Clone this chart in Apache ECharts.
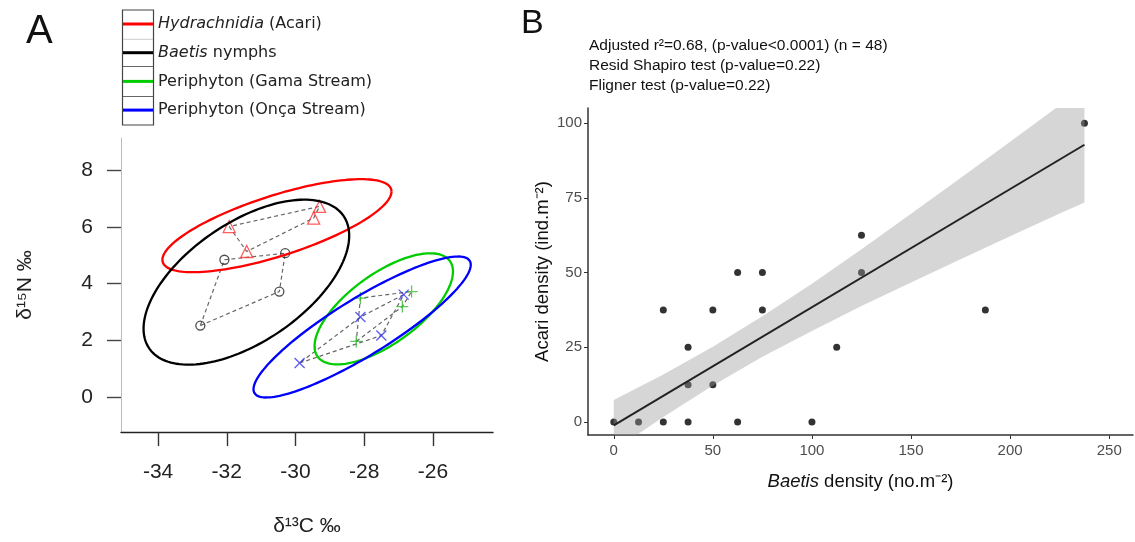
<!DOCTYPE html>
<html><head><meta charset="utf-8">
<script src="https://cdn.jsdelivr.net/npm/echarts@6/dist/echarts.min.js"></script>
<style>html,body{margin:0;padding:0;background:#fff}#c{width:1135px;height:542px}</style>
</head><body><div id="c"></div>
<script>
// ---------- Panel A : stable isotopes ----------
const groupNames = ['Hydrachnidia (Acari)', 'Baetis nymphs', 'Periphyton (Gama Stream)', 'Periphyton (Onça Stream)'];
const groupColors = ['#ff0000', '#000000', '#00cd00', '#0000ff'];
const markerColors = ['#ff3333', '#222222', '#33bb33', '#3333ee'];
// d13C and d15N of each sample
const acariC  = [-31.93, -31.42, -29.30, -29.47];
const acariN  = [6.01, 5.13, 6.72, 6.31];
const baetisC = [-32.07, -30.30, -30.47, -32.77];
const baetisN = [4.84, 5.07, 3.72, 2.52];
const gamaC   = [-28.11, -26.62, -26.89, -28.23];
const gamaN   = [3.49, 3.72, 3.19, 1.96];
const oncaC   = [-29.88, -28.11, -27.50, -26.85];
const oncaN   = [1.20, 2.82, 2.17, 3.61];
// standard ellipses: [centre C, centre N, var C, var N, cov C-N]
const ellipseAcari  = [-30.54, 6.04, 11.12, 2.686, 4.007];
const ellipseBaetis = [-31.43, 4.05, 8.96, 8.45, 4.905];
const ellipseGama   = [-27.43, 3.11, 4.06, 3.83, 2.649];
const ellipseOnca   = [-28.06, 2.47, 10.0, 6.17, 6.933];
const xTicksA = [-34, -32, -30, -28, -26];
const yTicksA = [0, 2, 4, 6, 8];

// ---------- Panel B : densities ----------
const baetisDensity = [0, 12.5, 25, 37.5, 62.5, 100, 25, 37.5, 37.5, 50, 50, 62.5, 75, 75, 112.5, 125, 125, 187.5, 237.5];
const acariDensity  = [0, 0, 0, 0, 0, 0, 37.5, 25, 12.5, 37.5, 12.5, 50, 50, 37.5, 25, 62.5, 50, 37.5, 100];
const fitX = [0, 237.5];
const fitY = [-1.1, 92.8];
const bandX     = [0, 25, 50, 75, 100, 125, 150, 175, 200, 225, 237.5];
const bandLower = [-9.6, 1.7, 12.2, 21.8, 30.5, 38.8, 46.7, 54.5, 62.2, 69.8, 73.5];
const bandUpper = [7.4, 15.9, 25.2, 35.4, 46.3, 57.8, 69.7, 81.7, 93.8, 106.0, 112.1];
const xTicksB = [0, 50, 100, 150, 200, 250];
const yTicksB = [0, 25, 50, 75, 100];

const groupsC = [acariC, baetisC, gamaC, oncaC];
const groupsN = [acariN, baetisN, gamaN, oncaN];
const ellipses = [ellipseAcari, ellipseBaetis, ellipseGama, ellipseOnca];
const symbols = ['triangle', 'circle', 'path://M0,5L10,5M5,0L5,10', 'path://M0,0L10,10M10,0L0,10'];
const symbolSizes = [12, 9, 12, 10];

function convexHull(xs, ys) {
  const p = xs.map((x, i) => [x, ys[i]]).sort((a, b) => a[0] - b[0] || a[1] - b[1]);
  const cr = (o, a, b) => (a[0] - o[0]) * (b[1] - o[1]) - (a[1] - o[1]) * (b[0] - o[0]);
  const lo = [], up = [];
  for (const q of p) { while (lo.length >= 2 && cr(lo[lo.length - 2], lo[lo.length - 1], q) <= 0) lo.pop(); lo.push(q); }
  for (let i = p.length - 1; i >= 0; i--) { const q = p[i]; while (up.length >= 2 && cr(up[up.length - 2], up[up.length - 1], q) <= 0) up.pop(); up.push(q); }
  up.pop(); lo.pop();
  const h = lo.concat(up); h.push(h[0]); return h;
}

const FONT = 'Liberation Sans, Arial, sans-serif';
const series = [];
groupNames.forEach((name, g) => {
  series.push({
    name, type: 'custom', xAxisIndex: 0, yAxisIndex: 0, z: 5,
    itemStyle: { color: groupColors[g] },
    dimensions: ['cx', 'cy', 'sxx', 'syy', 'sxy'], encode: { x: 0, y: 1 },
    data: [ellipses[g]],
    renderItem: function (params, api) {
      const cx = api.value(0), cy = api.value(1), sxx = api.value(2), syy = api.value(3), sxy = api.value(4);
      const a = Math.sqrt(sxx), b = sxy / a, c = Math.sqrt(syy - b * b);
      const pts = [];
      for (let i = 0; i <= 160; i++) {
        const t = i / 160 * 2 * Math.PI;
        pts.push(api.coord([cx + a * Math.cos(t), cy + b * Math.cos(t) + c * Math.sin(t)]));
      }
      return { type: 'polyline', shape: { points: pts }, style: { fill: 'none', stroke: groupColors[g], lineWidth: 2.3 } };
    }
  });
});
groupNames.forEach((name, g) => {
  series.push({
    name, type: 'line', xAxisIndex: 0, yAxisIndex: 0, z: 3, symbol: 'none', silent: true,
    data: convexHull(groupsC[g], groupsN[g]),
    lineStyle: { color: '#666', width: 1.2, type: [4, 3] }, itemStyle: { color: '#666' }
  });
});
groupNames.forEach((name, g) => {
  series.push({
    name, type: 'scatter', xAxisIndex: 0, yAxisIndex: 0, z: 4,
    symbol: symbols[g], symbolSize: symbolSizes[g],
    data: groupsC[g].map((x, i) => [x, groupsN[g][i]]),
    itemStyle: { color: 'rgba(0,0,0,0)', borderColor: markerColors[g], borderWidth: 1.3 }
  });
});
// Panel B
series.push({
  name: 'Density', type: 'scatter', xAxisIndex: 1, yAxisIndex: 1, z: 2,
  symbol: 'circle', symbolSize: 7,
  data: baetisDensity.map((x, i) => [x, acariDensity[i]]),
  itemStyle: { color: '#000' }
});
series.push({
  name: 'CI', type: 'custom', xAxisIndex: 1, yAxisIndex: 1, z: 3, clip: true, silent: true,
  data: bandX.map((x, i) => [x, bandLower[i], bandUpper[i]]),
  encode: { x: 0, y: [1, 2] },
  renderItem: function (params, api) {
    if (params.dataIndex !== 0) return null;
    const pts = [];
    for (let i = 0; i < bandX.length; i++) pts.push(api.coord([bandX[i], bandUpper[i]]));
    for (let i = bandX.length - 1; i >= 0; i--) pts.push(api.coord([bandX[i], bandLower[i]]));
    return { type: 'polygon', shape: { points: pts }, style: { fill: 'rgba(153,153,153,0.4)', stroke: 'none' } };
  }
});
series.push({
  name: 'Fit', type: 'line', xAxisIndex: 1, yAxisIndex: 1, z: 4, symbol: 'none', silent: true,
  data: fitX.map((x, i) => [x, fitY[i]]),
  lineStyle: { color: '#222', width: 2 }
});

const option = {
  animation: false,
  backgroundColor: '#fff',
  legend: {
    left: 123, top: 14, orient: 'vertical', padding: 0, itemGap: 8.7,
    icon: 'rect', itemWidth: 30, itemHeight: 3,
    data: groupNames.map((n, g) => ({ name: n, itemStyle: { color: groupColors[g] } })),
    formatter: function (name) {
      if (name.indexOf('Hydrachnidia') === 0) return '{it|Hydrachnidia} (Acari)';
      if (name.indexOf('Baetis') === 0) return '{it|Baetis} nymphs';
      return name;
    },
    textStyle: {
      fontFamily: 'DejaVu Sans', fontSize: 16, color: '#222', lineHeight: 20,
      rich: { it: { fontStyle: 'italic', fontFamily: 'DejaVu Sans', fontSize: 16, color: '#222', lineHeight: 20 } }
    }
  },
  grid: [
    { left: 121, top: 138, width: 372, height: 294 },
    { left: 588, top: 108, width: 545, height: 327 }
  ],
  xAxis: [
    {
      gridIndex: 0, type: 'value', min: -35.08, max: -24.25,
      name: 'δ¹³C ‰', nameLocation: 'middle', nameGap: 84,
      nameTextStyle: { fontFamily: FONT, fontSize: 21, color: '#222' },
      axisLine: { onZero: false, lineStyle: { color: '#222', width: 1.4 } },
      axisTick: { customValues: xTicksA, length: 14, lineStyle: { color: '#333', width: 1.4 } },
      axisLabel: { customValues: xTicksA, margin: 30, fontFamily: FONT, fontSize: 21, color: '#222' },
      splitLine: { show: false }
    },
    {
      gridIndex: 1, type: 'value', min: -13, max: 262,
      name: '{it|Baetis} density (no.m⁻²)', nameLocation: 'middle', nameGap: 37,
      nameTextStyle: { fontFamily: FONT, fontSize: 18.5, color: '#111', rich: { it: { fontStyle: 'italic', fontFamily: FONT, fontSize: 18.5, color: '#111' } } },
      axisLine: { onZero: false, lineStyle: { color: '#333', width: 1.5 } },
      axisTick: { customValues: xTicksB, length: 4, lineStyle: { color: '#333', width: 1 } },
      axisLabel: { customValues: xTicksB, margin: 8, fontFamily: FONT, fontSize: 15, color: '#4d4d4d' },
      splitLine: { show: false }
    }
  ],
  yAxis: [
    {
      gridIndex: 0, type: 'value', min: -1.23, max: 9.13,
      name: 'δ¹⁵N ‰', nameLocation: 'middle', nameGap: 85,
      nameTextStyle: { fontFamily: FONT, fontSize: 21, color: '#222' },
      axisLine: { onZero: false, lineStyle: { color: '#bbb', width: 1 } },
      axisTick: { customValues: yTicksA, length: 14, lineStyle: { color: '#444', width: 1.4 } },
      axisLabel: { customValues: yTicksA, margin: 28, fontFamily: FONT, fontSize: 21, color: '#222' },
      splitLine: { show: false }
    },
    {
      gridIndex: 1, type: 'value', min: -4.35, max: 105.1,
      name: 'Acari density (ind.m⁻²)', nameLocation: 'middle', nameGap: 36,
      nameTextStyle: { fontFamily: FONT, fontSize: 18.5, color: '#111' },
      axisLine: { onZero: false, lineStyle: { color: '#333', width: 1.5 } },
      axisTick: { customValues: yTicksB, length: 4, lineStyle: { color: '#333', width: 1 } },
      axisLabel: { customValues: yTicksB, margin: 6, fontFamily: FONT, fontSize: 15, color: '#4d4d4d' },
      splitLine: { show: false }
    }
  ],
  graphic: [
    { type: 'text', left: 26, top: 12, style: { text: 'A', font: '40px ' + FONT, fill: '#111' } },
    { type: 'text', left: 521, top: 7, style: { text: 'B', font: '34px ' + FONT, fill: '#111' } },
    { type: 'text', left: 589, top: 38, style: { text: 'Adjusted r²=0.68, (p-value<0.0001) (n = 48)', font: '15.5px ' + FONT, fill: '#111' } },
    { type: 'text', left: 589, top: 58, style: { text: 'Resid Shapiro test (p-value=0.22)', font: '15.5px ' + FONT, fill: '#111' } },
    { type: 'text', left: 589, top: 78, style: { text: 'Fligner test (p-value=0.22)', font: '15.5px ' + FONT, fill: '#111' } },
    { type: 'rect', shape: { x: 122.5, y: 10, width: 31, height: 115 }, style: { fill: 'none', stroke: '#444', lineWidth: 1.2 }, silent: true },
    { type: 'line', shape: { x1: 123, y1: 39.3, x2: 153, y2: 39.3 }, style: { stroke: '#ccc', lineWidth: 1 }, silent: true },
    { type: 'line', shape: { x1: 123, y1: 66.5, x2: 153, y2: 66.5 }, style: { stroke: '#666', lineWidth: 1 }, silent: true },
    { type: 'line', shape: { x1: 123, y1: 96.5, x2: 153, y2: 96.5 }, style: { stroke: '#666', lineWidth: 1 }, silent: true }
  ],
  series
};
const chart = echarts.init(document.getElementById('c'), null, { renderer: 'canvas' });
chart.setOption(option);
</script></body></html>
